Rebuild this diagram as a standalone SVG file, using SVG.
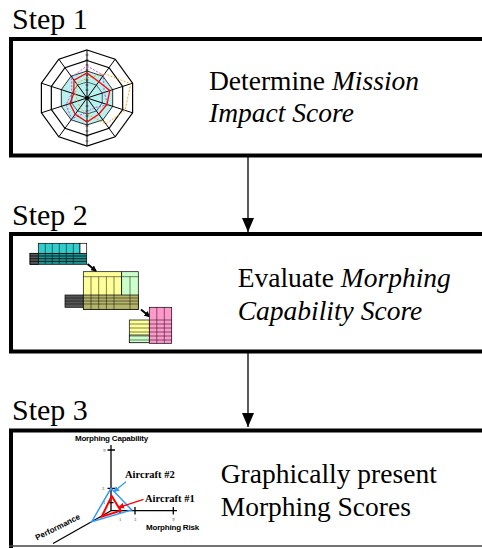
<svg xmlns="http://www.w3.org/2000/svg" width="482" height="548" viewBox="0 0 482 548">
<style>
.box{fill:#fff;stroke:#000;stroke-width:4}
.ring{fill:none;stroke:#000;stroke-width:1.2}
.ax{stroke:#000;stroke-width:1}
.tb{stroke:#000;stroke-width:0.7}
</style>
<defs>
<marker id="ah" markerUnits="userSpaceOnUse" viewBox="0 0 14 12" refX="14" refY="6" markerWidth="14" markerHeight="12" orient="auto">
<path d="M0,0 L14,6 L0,12 Z" fill="#000"/>
</marker>
<marker id="sm" markerUnits="userSpaceOnUse" viewBox="0 0 6 6" refX="5" refY="3" markerWidth="6" markerHeight="6" orient="auto">
<path d="M0,0 L6,3 L0,6 Z" fill="#000"/>
</marker>
<marker id="bl" markerUnits="userSpaceOnUse" viewBox="0 0 6 6" refX="5" refY="3" markerWidth="6" markerHeight="6" orient="auto">
<path d="M0,0 L6,3 L0,6 Z" fill="#3399ff"/>
</marker>
<marker id="rd" markerUnits="userSpaceOnUse" viewBox="0 0 6 6" refX="5" refY="3" markerWidth="6" markerHeight="6" orient="auto">
<path d="M0,0 L6,3 L0,6 Z" fill="#ff0000"/>
</marker>
</defs>
<rect width="482" height="548" fill="#fff"/>

<g id="step1">
<text x="12" y="29" style="font-family:'Liberation Serif',serif;font-size:30px">Step 1</text>
<rect class="box" x="11" y="39" width="480" height="116.5"/>
<g id="radar">
<polygon points="87,71 102.88,76.16 112.68,89.66 112.68,106.34 102.88,119.84 87,125 71.12,119.84 61.32,106.34 61.32,89.66 71.12,76.16" fill="#b8f0f0" stroke="#000" stroke-width="0.8"/>
<polygon class="ring" points="87,50 115.2,59.2 132.6,83.2 132.6,112.8 115.2,136.8 87,146 58.8,136.8 41.4,112.8 41.4,83.2 58.8,59.2"/>
<polygon class="ring" points="87,60.5 109.05,67.66 122.66,86.41 122.66,109.59 109.05,128.34 87,135.5 64.95,128.34 51.34,109.59 51.34,86.41 64.95,67.66"/>
<polygon points="87,82 96.41,85.06 102.22,93.06 102.22,102.94 96.41,110.94 87,114 77.59,110.94 71.78,102.94 71.78,93.06 77.59,85.06" fill="none" stroke="#000" stroke-width="0.6"/>
<g class="ax">
<line x1="87" y1="98" x2="87" y2="50"/><line x1="87" y1="98" x2="115.2" y2="59.2"/><line x1="87" y1="98" x2="132.6" y2="83.2"/><line x1="87" y1="98" x2="132.6" y2="112.8"/><line x1="87" y1="98" x2="115.2" y2="136.8"/><line x1="87" y1="98" x2="87" y2="146"/><line x1="87" y1="98" x2="58.8" y2="136.8"/><line x1="87" y1="98" x2="41.4" y2="112.8"/><line x1="87" y1="98" x2="41.4" y2="83.2"/><line x1="87" y1="98" x2="58.8" y2="59.2"/>
</g>
<path d="M85.5,55 H88.5 M85.5,60 H88.5 M85.5,65 H88.5 M85.5,70 H88.5 M85.5,75 H88.5 M85.5,80 H88.5 M85.5,85 H88.5 M85.5,90 H88.5 M85.5,106 H88.5 M85.5,111 H88.5 M85.5,116 H88.5 M85.5,121 H88.5 M85.5,126 H88.5 M85.5,131 H88.5 M85.5,136 H88.5 M85.5,141 H88.5" stroke="#000" stroke-width="0.6"/>
<polygon points="87,78 104.64,73.73 130.75,83.79 125.04,110.36 105.82,123.89 87,114 79.94,107.71 77.49,101.09 75.59,94.29 76.42,83.44" fill="none" stroke="#ff9900" stroke-width="0.9" stroke-dasharray="2,1.5"/>
<polygon points="87,66 103.46,75.35 104.12,92.44 107.92,104.8 94.06,107.71 87,112 71.71,119.03 66.08,104.8 71.78,93.06 71.71,76.97" fill="none" stroke="#cc33cc" stroke-width="0.9" stroke-dasharray="2,1.5"/>
<polygon points="87,73 98.76,81.82 109.82,90.58 106.97,104.49 98.76,114.18 87,122 75.24,114.18 69.88,103.56 73.69,93.67 74.06,80.2" fill="none" stroke="#ff0000" stroke-width="1.3"/>
<circle cx="87" cy="98" r="2" fill="#000"/>
</g>
<text x="209" y="90" style="font-family:'Liberation Serif',serif;font-size:27.5px">Determine <tspan style="font-style:italic">Mission</tspan></text>
<text x="209" y="121.7" style="font-family:'Liberation Serif',serif;font-size:27.5px;font-style:italic">Impact Score</text>
</g>

<g id="step2">
<text x="12" y="225" style="font-family:'Liberation Serif',serif;font-size:30px">Step 2</text>
<rect class="box" x="11" y="234" width="480" height="117.5"/>
<g id="tables">
<rect x="30" y="253.3" width="56.7" height="11" fill="#1f8f8f" class="tb"/>
<rect x="30" y="253.3" width="8.3" height="11" fill="#555" class="tb"/>
<path d="M30,256 H86.7 M30,258.7 H86.7 M30,261.4 H86.7" stroke="#000" stroke-width="0.7"/>
<rect x="38.3" y="243.3" width="41.7" height="10" fill="#33cccc" class="tb"/>
<rect x="80" y="243.3" width="6.7" height="10" fill="#fff" class="tb"/>
<path d="M45.3,243.3 V264.3 M52.3,243.3 V264.3 M59.3,243.3 V264.3 M66.3,243.3 V264.3 M73.3,243.3 V264.3" stroke="#000" stroke-width="0.5"/>
<line x1="87.5" y1="264" x2="96" y2="271" stroke="#000" stroke-width="2" marker-end="url(#sm)"/>
<rect x="65" y="295" width="18.3" height="12.3" fill="#555" class="tb"/>
<rect x="83.3" y="271.7" width="38.4" height="37.6" fill="#ffff99" class="tb"/>
<rect x="121.7" y="271.7" width="16.6" height="37.6" fill="#ccffcc" class="tb"/>
<rect x="83.3" y="295" width="55" height="14.3" fill="#b5b56a" class="tb"/>
<path d="M83.3,276.7 H138.3 M65,298 H138.3 M65,301 H138.3 M65,304 H138.3 M91,276.7 V309.3 M98.7,276.7 V309.3 M106.4,276.7 V309.3 M114,276.7 V309.3 M130,276.7 V309.3" stroke="#000" stroke-width="0.5"/>
<line x1="141" y1="309.5" x2="149.5" y2="316.5" stroke="#000" stroke-width="2" marker-end="url(#sm)"/>
<rect x="129.3" y="320" width="20" height="22.7" fill="#ffff99" class="tb"/>
<rect x="129.3" y="335" width="20" height="7.7" fill="#ccffcc" class="tb"/>
<rect x="149.3" y="307.3" width="22.4" height="36" fill="#ff99cc" class="tb"/>
<path d="M129.3,324 H171.7 M129.3,328 H171.7 M129.3,332 H171.7 M129.3,336 H171.7 M129.3,340 H171.7 M149.3,320 H171.7 M156.8,307.3 V343.3 M164.3,307.3 V343.3" stroke="#000" stroke-width="0.5"/>
</g>
<text x="237.7" y="286.7" style="font-family:'Liberation Serif',serif;font-size:27.5px">Evaluate <tspan style="font-style:italic">Morphing</tspan></text>
<text x="237.7" y="320" style="font-family:'Liberation Serif',serif;font-size:27.5px;font-style:italic">Capability Score</text>
</g>

<g id="step3">
<text x="12" y="420" style="font-family:'Liberation Serif',serif;font-size:30px">Step 3</text>
<rect x="11" y="430.5" width="480" height="120" fill="#fff"/>
<path d="M11,548 V430.5 H484" fill="none" stroke="#000" stroke-width="4"/>
<line x1="9" y1="546" x2="482" y2="546" stroke="#444" stroke-width="1.5"/>
<g id="chart">
<text x="111.5" y="440.7" text-anchor="middle" letter-spacing="-0.2" style="font-family:'Liberation Sans',sans-serif;font-weight:bold;font-size:8px">Morphing Capability</text>
<line x1="111" y1="445" x2="111" y2="511" stroke="#000" stroke-width="1.3"/>
<line x1="111" y1="510.7" x2="177" y2="510.7" stroke="#000" stroke-width="1.3"/>
<line x1="111" y1="510.7" x2="53" y2="543.5" stroke="#000" stroke-width="1.3"/>
<path d="M107.5,450 H115 M107.5,488.3 H115 M108.5,502.7 H113.5 M120,507.5 V514 M135,507 V514.5 M173.3,507 V514.5" stroke="#000" stroke-width="1.3"/>
<text x="104.3" y="451.5" text-anchor="middle" fill="#333" style="font-family:'Liberation Serif',serif;font-size:4.5px">9</text>
<text x="103" y="490" text-anchor="middle" fill="#333" style="font-family:'Liberation Serif',serif;font-size:4.5px">3</text>
<text x="104" y="504" text-anchor="middle" fill="#333" style="font-family:'Liberation Serif',serif;font-size:4.5px">1</text>
<text x="120" y="521" text-anchor="middle" fill="#333" style="font-family:'Liberation Serif',serif;font-size:4.5px">1</text>
<text x="135" y="521" text-anchor="middle" fill="#333" style="font-family:'Liberation Serif',serif;font-size:4.5px">3</text>
<text x="173.3" y="521" text-anchor="middle" fill="#333" style="font-family:'Liberation Serif',serif;font-size:4.5px">9</text>
<text x="146" y="530" letter-spacing="-0.2" style="font-family:'Liberation Sans',sans-serif;font-weight:bold;font-size:8px">Morphing Risk</text>
<text transform="translate(37,540.5) rotate(-26.8)" style="font-family:'Liberation Sans',sans-serif;font-weight:bold;font-size:8px">Performance</text>
<polygon points="111,488.3 131.7,510 91.7,521.7" fill="none" stroke="#3399ff" stroke-width="1.5"/>
<polygon points="111.7,496 120.7,510.7 101.7,516.7" fill="none" stroke="#ff0000" stroke-width="2"/>
<line x1="126" y1="481.7" x2="114" y2="491.5" stroke="#3399ff" stroke-width="1.3" marker-end="url(#bl)"/>
<line x1="143.5" y1="499.3" x2="119" y2="507.3" stroke="#ff0000" stroke-width="1.3" marker-end="url(#rd)"/>
<text x="125" y="478.3" style="font-family:'Liberation Serif',serif;font-weight:bold;font-size:10.5px">Aircraft #2</text>
<text x="145" y="502.3" style="font-family:'Liberation Serif',serif;font-weight:bold;font-size:10.5px">Aircraft #1</text>
</g>
<text x="220.7" y="482.7" style="font-family:'Liberation Serif',serif;font-size:27.5px">Graphically present</text>
<text x="220.7" y="515.7" style="font-family:'Liberation Serif',serif;font-size:27.5px">Morphing Scores</text>
</g>

<g id="connectors">
<line x1="248" y1="157" x2="248" y2="232" stroke="#000" stroke-width="1.3" marker-end="url(#ah)"/>
<line x1="248" y1="353" x2="248" y2="427" stroke="#000" stroke-width="1.3" marker-end="url(#ah)"/>
</g>
</svg>
